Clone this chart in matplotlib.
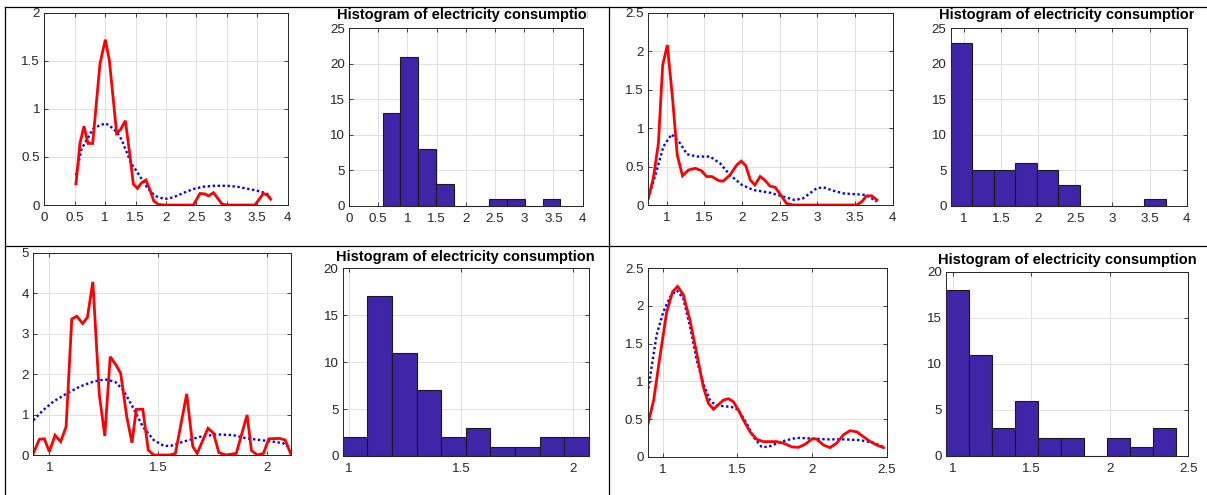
import numpy as np
import matplotlib
matplotlib.use("Agg")
import matplotlib.pyplot as plt
from matplotlib.lines import Line2D
from matplotlib.transforms import Bbox
from matplotlib.ticker import FuncFormatter, MultipleLocator

plt.rcParams['font.family'] = ['Liberation Sans', 'DejaVu Sans']

TITLE = "Histogram of electricity consumption"

# top-left cell: density estimates
tl_red_x = [0.52, 0.586, 0.652, 0.718, 0.795, 0.915, 1.003, 1.068, 1.189, 1.255, 1.332, 1.41, 1.463,
            1.53, 1.6, 1.67, 1.737, 1.8, 1.874, 1.956, 2.45, 2.56, 2.64, 2.7, 2.78, 2.92, 3.0, 3.46,
            3.52, 3.6, 3.67, 3.72]
tl_red_y = [0.22, 0.64, 0.82, 0.64, 0.64, 1.47, 1.72, 1.51, 0.745, 0.787, 0.877, 0.50, 0.218,
            0.173, 0.232, 0.26, 0.156, 0.04, 0.007, 0.0, 0.0, 0.12, 0.115, 0.094, 0.128, 0.01, 0.0, 0.0,
            0.05, 0.12, 0.10, 0.06]
tl_blue_x = [0.52, 0.61, 0.7, 0.8, 0.9, 1.01, 1.1, 1.19, 1.27, 1.35, 1.43, 1.52, 1.6, 1.68, 1.76,
             1.85, 1.98, 2.12, 2.23, 2.34, 2.47, 2.61, 2.8, 3.0, 3.17, 3.33, 3.45, 3.55, 3.65, 3.72]
tl_blue_y = [0.31, 0.58, 0.68, 0.79, 0.825, 0.85, 0.81, 0.76, 0.68, 0.555, 0.43, 0.35, 0.27, 0.19,
             0.13, 0.087, 0.062, 0.08, 0.11, 0.14, 0.17, 0.19, 0.2, 0.2, 0.19, 0.17, 0.155, 0.14, 0.12, 0.087]

# top-left cell: histogram
tl_hist_range = (0.576, 3.618)
tl_hist_counts = [13, 21, 8, 3, 0, 0, 1, 1, 0, 1]

# top-right cell
tr_red_x = [0.757, 0.823, 0.89, 0.947, 1.009, 1.08, 1.14, 1.21, 1.29, 1.38, 1.46, 1.53, 1.6, 1.69,
            1.75, 1.84, 1.93, 1.99, 2.05, 2.11, 2.17, 2.24, 2.3, 2.37, 2.44, 2.53, 2.59, 2.68, 3.52,
            3.59, 3.65, 3.72, 3.79]
tr_red_y = [0.087, 0.35, 0.80, 1.82, 2.08, 1.36, 0.65, 0.38, 0.455, 0.477, 0.446, 0.37, 0.37, 0.316,
            0.31, 0.39, 0.52, 0.57, 0.51, 0.325, 0.26, 0.37, 0.325, 0.247, 0.23, 0.108, 0.02, 0.0, 0.0,
            0.043, 0.117, 0.12, 0.065]
tr_blue_x = [0.757, 0.87, 0.956, 1.066, 1.18, 1.27, 1.4, 1.575, 1.71, 1.84, 2.0, 2.15, 2.37, 2.55,
             2.7, 2.81, 2.99, 3.08, 3.21, 3.35, 3.52, 3.65, 3.79]
tr_blue_y = [0.087, 0.455, 0.76, 0.92, 0.80, 0.66, 0.63, 0.63, 0.54, 0.39, 0.26, 0.195, 0.16, 0.108,
             0.065, 0.087, 0.217, 0.23, 0.186, 0.15, 0.14, 0.13, 0.043]

tr_hist_range = (0.824, 3.72)
tr_hist_counts = [23, 5, 5, 6, 5, 3, 0, 0, 0, 1]

# bottom-left cell
bl_red_x = [0.926, 0.954, 0.977, 1.0, 1.026, 1.052, 1.077, 1.103, 1.126, 1.153, 1.175, 1.2, 1.23,
            1.255, 1.28, 1.307, 1.328, 1.356, 1.38, 1.40, 1.43, 1.455, 1.48, 1.555, 1.58, 1.632, 1.66,
            1.68, 1.73, 1.755, 1.78, 1.81, 1.86, 1.91, 1.93, 1.957, 1.985, 2.01, 2.06, 2.085, 2.11]
bl_red_y = [0.04, 0.39, 0.40, 0.08, 0.49, 0.33, 0.70, 3.36, 3.43, 3.25, 3.40, 4.28, 1.48,
            0.47, 2.43, 2.22, 2.02, 0.95, 0.30, 1.13, 1.13, 0.12, 0.0, 0.0, 0.04, 1.51, 0.21,
            0.04, 0.66, 0.54, 0.06, 0.0, 0.04, 0.99, 0.11, 0.0, 0.04, 0.40, 0.41, 0.37, 0.04]
bl_blue_x = [0.926, 0.972, 1.018, 1.08, 1.14, 1.2, 1.256, 1.302, 1.34, 1.387, 1.43, 1.48, 1.525,
             1.555, 1.617, 1.693, 1.77, 1.847, 1.908, 1.97, 2.03, 2.077, 2.11]
bl_blue_y = [0.86, 1.11, 1.32, 1.52, 1.69, 1.81, 1.87, 1.81, 1.61, 1.15, 0.70, 0.37, 0.23,
             0.22, 0.33, 0.45, 0.51, 0.49, 0.41, 0.37, 0.33, 0.29, 0.16]

bl_hist_range = (0.972, 2.071)
bl_hist_counts = [2, 17, 11, 7, 2, 3, 1, 1, 2, 2]

# bottom-right cell
br_red_x = [0.9, 0.94, 0.982, 1.027, 1.067, 1.1, 1.138, 1.183, 1.228, 1.272, 1.306, 1.34, 1.373,
            1.406, 1.44, 1.473, 1.507, 1.54, 1.585, 1.63, 1.674, 1.72, 1.763, 1.808, 1.864, 1.908,
            1.953, 2.0, 2.03, 2.076, 2.12, 2.165, 2.21, 2.254, 2.3, 2.344, 2.39, 2.433, 2.478]
br_red_y = [0.42, 0.75, 1.33, 1.92, 2.19, 2.26, 2.15, 1.81, 1.37, 0.93, 0.71, 0.63, 0.69,
            0.75, 0.77, 0.73, 0.62, 0.49, 0.33, 0.23, 0.20, 0.20, 0.20, 0.18, 0.13, 0.124,
            0.164, 0.235, 0.235, 0.155, 0.12, 0.18, 0.29, 0.345, 0.33, 0.265, 0.20, 0.155, 0.12]
br_blue_x = [0.9, 0.926, 0.96, 1.004, 1.05, 1.094, 1.138, 1.183, 1.228, 1.272, 1.317, 1.35, 1.406,
             1.462, 1.507, 1.563, 1.607, 1.663, 1.708, 1.763, 1.83, 1.897, 1.987, 2.098, 2.21, 2.32,
             2.41, 2.478]
br_blue_y = [0.84, 1.19, 1.62, 1.92, 2.12, 2.21, 2.10, 1.73, 1.28, 0.97, 0.75, 0.69, 0.67,
             0.66, 0.62, 0.44, 0.265, 0.13, 0.13, 0.177, 0.22, 0.25, 0.243, 0.23, 0.23, 0.22,
             0.186, 0.13]

br_hist_range = (0.958, 2.4225)
br_hist_counts = [18, 11, 3, 6, 2, 2, 0, 2, 1, 3]


W, H = 1207, 495
fig = plt.figure(figsize=(W / 100, H / 100), dpi=100)
fig.patch.set_facecolor('white')

AXC = '#262626'
fmt = FuncFormatter(lambda v, p: f"{v:g}")


def px_axes(l, r, t, b):
    return fig.add_axes([l / W, 1 - b / H, (r - l) / W, (b - t) / H])


def matlab_look(ax, xlim, ylim, xstep, ystep):
    ax.set_xlim(xlim)
    ax.set_ylim(ylim)
    ax.xaxis.set_major_locator(MultipleLocator(xstep))
    ax.yaxis.set_major_locator(MultipleLocator(ystep))
    ax.xaxis.set_major_formatter(fmt)
    ax.yaxis.set_major_formatter(fmt)
    ax.grid(True, color='#e0e0e0', lw=0.7)
    ax.set_axisbelow(True)
    ax.tick_params(direction='in', top=True, right=True, length=3, width=0.6,
                   colors=AXC, labelsize=9.6)
    ax.tick_params(axis='x', pad=5)
    ax.tick_params(axis='y', pad=3)
    for s in ax.spines.values():
        s.set_color(AXC)
        s.set_linewidth(0.7)


def kde_panel(ax, rx, ry, bx, by):
    ax.plot(bx, by, color='#0000ff', lw=1.7, linestyle=(0, (1, 1.1)))
    ax.plot(rx, ry, color='#ff0000', lw=2.0, solid_joinstyle='miter')


def hist_panel(ax, rng, counts, pad, clip_right):
    edges = np.linspace(rng[0], rng[1], len(counts) + 1)
    bars = ax.bar(edges[:-1], counts, width=np.diff(edges), align='edge',
                  color='#3e26a8', edgecolor='#1a1a1a', linewidth=0.8)
    # empty bins still show their flat outline on the baseline
    for b in bars:
        b.set_clip_on(False)
    t = ax.set_title(TITLE, fontsize=10.5, fontweight='bold', color='black', pad=pad)
    t.set_clip_box(Bbox([[0, 0], [clip_right, H]]))
    t.set_clip_on(True)


# top-left
ax = px_axes(44.3, 287.7, 12.7, 205)
kde_panel(ax, tl_red_x, tl_red_y, tl_blue_x, tl_blue_y)
matlab_look(ax, (0, 4), (0, 2), 0.5, 0.5)

ax = px_axes(349, 582.7, 28.3, 205.7)
hist_panel(ax, tl_hist_range, tl_hist_counts, 6.7, 588)
matlab_look(ax, (0, 4), (0, 25), 0.5, 5)

# top-right
ax = px_axes(648.3, 892.7, 12.7, 205)
kde_panel(ax, tr_red_x, tr_red_y, tr_blue_x, tr_blue_y)
matlab_look(ax, (0.756, 4), (0, 2.5), 0.5, 0.5)

ax = px_axes(950.7, 1186.7, 28.3, 206)
hist_panel(ax, tr_hist_range, tr_hist_counts, 6.7, 1194)
matlab_look(ax, (0.824, 4), (0, 25), 0.5, 5)

# bottom-left
ax = px_axes(33.3, 291, 252.7, 455)
kde_panel(ax, bl_red_x, bl_red_y, bl_blue_x, bl_blue_y)
matlab_look(ax, (0.926, 2.112), (0, 5), 0.5, 1)

ax = px_axes(342.7, 588.7, 268.3, 456)
hist_panel(ax, bl_hist_range, bl_hist_counts, 5.5, 596)
matlab_look(ax, (0.972, 2.071), (0, 20), 0.5, 5)

# bottom-right
ax = px_axes(647.7, 886.7, 268.3, 456.7)
kde_panel(ax, br_red_x, br_red_y, br_blue_x, br_blue_y)
matlab_look(ax, (0.9, 2.5), (0, 2.5), 0.5, 0.5)

ax = px_axes(946, 1188.3, 271.7, 456)
hist_panel(ax, br_hist_range, br_hist_counts, 5.5, W)
matlab_look(ax, (0.958, 2.5), (0, 20), 0.5, 5)

# table borders around the four cells
def fig_line(x0, y0, x1, y1):
    fig.add_artist(Line2D([x0 / W, x1 / W], [1 - y0 / H, 1 - y1 / H],
                          transform=fig.transFigure, color='black', lw=0.9))

fig_line(5, 7, W, 7)
fig_line(5, 7, 5, H)
fig_line(609, 7, 609, H)
fig_line(5, 246, W, 246)

fig.savefig('out.png', dpi=100)
